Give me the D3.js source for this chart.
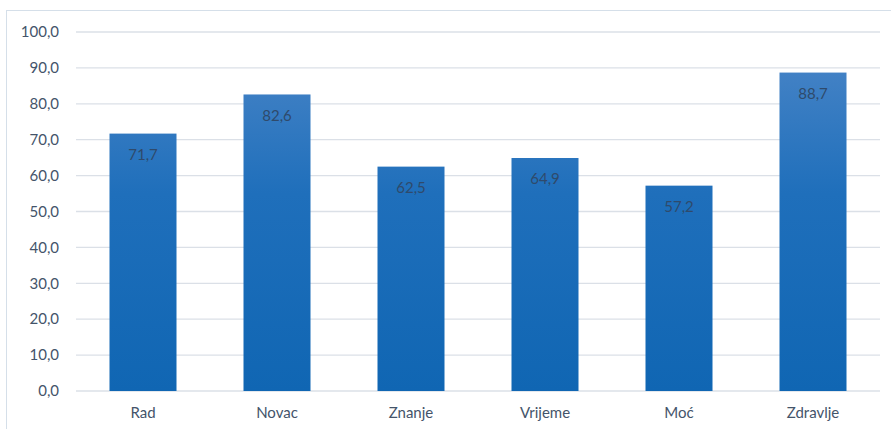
<!DOCTYPE html>
<html lang="hr">
<head>
<meta charset="UTF-8">
<title>Bar chart</title>
<script src="https://d3js.org/d3.v7.min.js"></script>
<style>
    body { margin: 0; background: #fff; }
    text { font-family: Lato, "Open Sans", sans-serif; }
</style>
</head>
<body>
<svg width="891" height="429"></svg>
<script>
    const categories = ["Rad", "Novac", "Znanje", "Vrijeme", "Moć", "Zdravlje"];
    const values = [71.7, 82.6, 62.5, 64.9, 57.2, 88.7];
    const ticks = [0, 10, 20, 30, 40, 50, 60, 70, 80, 90, 100];

    const svg = d3.select("svg");
    const fmt = v => v.toFixed(1).replace(".", ",");

    // chart border (continues past the right edge)
    svg.append("rect")
        .attr("x", 6.5).attr("y", 10.5)
        .attr("width", 900).attr("height", 430)
        .attr("fill", "none")
        .attr("stroke", "#d5dfe9");

    const grad = svg.append("defs").append("linearGradient")
        .attr("id", "barGrad")
        .attr("gradientUnits", "userSpaceOnUse")
        .attr("x1", 0).attr("x2", 0).attr("y1", 32).attr("y2", 391);
    grad.append("stop").attr("offset", "0%").attr("stop-color", "#4d87c8");
    grad.append("stop").attr("offset", "45%").attr("stop-color", "#1f6fbb");
    grad.append("stop").attr("offset", "100%").attr("stop-color", "#1066b3");

    const x = d3.scaleBand().domain(categories).range([76, 880])
        .paddingInner(0.5).paddingOuter(0.25);
    const y = d3.scaleLinear().domain([0, 100]).range([391, 32]);

    svg.append("g").selectAll("line")
        .data(ticks)
        .join("line")
        .attr("x1", 76).attr("x2", 880)
        .attr("y1", d => y(d)).attr("y2", d => y(d))
        .attr("stroke", "#dbe0e7")
        .attr("stroke-width", 1.3);

    svg.append("g").selectAll("text")
        .data(ticks)
        .join("text")
        .attr("x", 59)
        .attr("y", d => y(d))
        .attr("dy", "0.35em")
        .attr("text-anchor", "end")
        .attr("font-size", 15)
        .attr("fill", "#44546a")
        .text(d => fmt(d));

    svg.append("g").selectAll("rect")
        .data(values)
        .join("rect")
        .attr("x", (d, i) => x(categories[i]))
        .attr("width", x.bandwidth())
        .attr("y", d => y(d))
        .attr("height", d => y(0) - y(d))
        .attr("fill", "url(#barGrad)");

    svg.append("g").selectAll("text")
        .data(values)
        .join("text")
        .attr("x", (d, i) => x(categories[i]) + x.bandwidth() / 2)
        .attr("y", d => y(d) + 21)
        .attr("dy", "0.35em")
        .attr("text-anchor", "middle")
        .attr("font-size", 15)
        .attr("fill", "#2f4a6b")
        .text(d => fmt(d));

    svg.append("g").selectAll("text")
        .data(categories)
        .join("text")
        .attr("x", d => x(d) + x.bandwidth() / 2)
        .attr("y", 413)
        .attr("dy", "0.35em")
        .attr("text-anchor", "middle")
        .attr("font-size", 15)
        .attr("fill", "#44546a")
        .text(d => d);
</script>
</body>
</html>
